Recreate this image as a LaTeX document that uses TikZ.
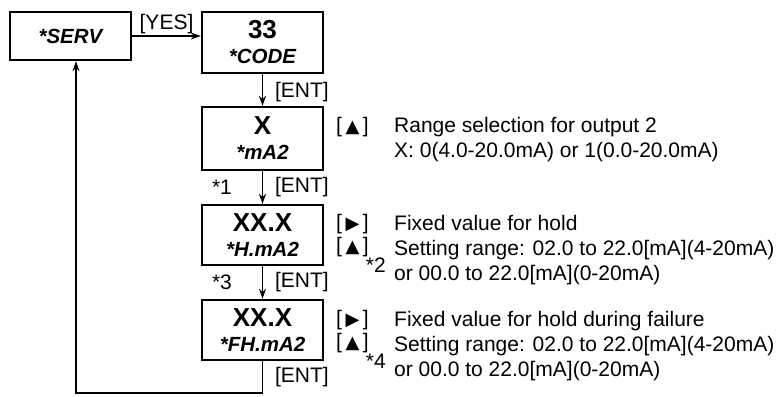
\documentclass[tikz,border=0pt]{standalone}
\usepackage{fontspec}
\setmainfont{Liberation Sans}
\newfontfamily\symfont{DejaVu Sans}
\usetikzlibrary{arrows.meta,positioning}

% two-line display: value on top, parameter name below
\newcommand{\dispval}[2]{{\fontsize{26}{26}\selectfont\bfseries #1}\\{\fontsize{20.5}{24}\selectfont\bfseries\itshape #2}}
% key symbols in brackets
\newcommand{\keyup}{[\,{\symfont\fontsize{18}{18}\selectfont ▲}\,]}
\newcommand{\keyright}{[\,{\symfont\fontsize{18}{18}\selectfont ▶}\,]}

\begin{document}
\begin{tikzpicture}[x=1pt,y=-1pt,
  font=\fontsize{21}{25}\selectfont,
  disp/.style={draw=black, line width=2.4pt, align=center, minimum width=121pt, inner sep=0pt},
  flow/.style={draw=black, line width=1.2pt, -{Stealth[length=10pt,width=7pt]}},
  entlab/.style={right=12pt, inner sep=0pt},
  noteleft/.style={left=30pt, inner sep=0pt},
  keylab/.style={anchor=west, inner sep=0pt},
  desc/.style={anchor=north west, align=left, inner sep=0pt}
]
\useasboundingbox (0,0) rectangle (781,396);

\node[disp, minimum height=48pt, font=\fontsize{20.5}{24}\selectfont\bfseries\itshape] (serv) at (70.5,36) {*SERV};
\node[disp, minimum height=61pt] (code) at (262.5,42.5) {\dispval{33}{*CODE}};
\node[disp, minimum height=63pt] (ma) at (262.5,138.5) {\dispval{X}{*mA2}};
\node[disp, minimum height=60pt] (hma) at (262.5,235) {\dispval{XX.X}{*H.mA2}};
\node[disp, minimum height=60pt] (fhma) at (262.5,330) {\dispval{XX.X}{*FH.mA2}};

\coordinate (back) at (76,393);

\draw[flow] (serv.east) -- (serv.east -| code.west) node[midway, above=2pt, inner sep=0pt] {[YES]};
\draw[flow] (code) -- node[entlab, yshift=-2pt] {[ENT]} (ma);
\draw[flow] (ma) -- node[entlab] {[ENT]} node[noteleft] {*1} (hma);
\draw[flow] (hma) -- node[entlab] {[ENT]} node[noteleft] {*3} (fhma);
\draw[flow] (fhma.south) -- node[entlab] {[ENT]} (fhma.south |- back) -- (back) -- (serv.south -| back);

% keys and notes
\node[keylab] (upma) at (336,127) {\keyup};
\node[desc] (descma) at (394,117) {Range selection for output 2\\X: 0(4.0-20.0mA) or 1(0.0-20.0mA)};

\node[keylab] (righthma) at (336,224) {\keyright};
\node[keylab] (uphma) at (336,247) {\keyup};
\node[anchor=base east, inner sep=0pt] (notetwo) at (386,272) {*2};
\node[desc] (deschma) at (394,215) {Fixed value for hold\\Setting range: 02.0 to 22.0[mA](4-20mA)\\or 00.0 to 22.0[mA](0-20mA)};

\node[keylab] (rightfhma) at (336,320) {\keyright};
\node[keylab] (upfhma) at (336,343) {\keyup};
\node[anchor=base east, inner sep=0pt] (notefour) at (386,368) {*4};
\node[desc] (descfhma) at (394,311) {Fixed value for hold during failure\\Setting range: 02.0 to 22.0[mA](4-20mA)\\or 00.0 to 22.0[mA](0-20mA)};
\end{tikzpicture}
\end{document}
